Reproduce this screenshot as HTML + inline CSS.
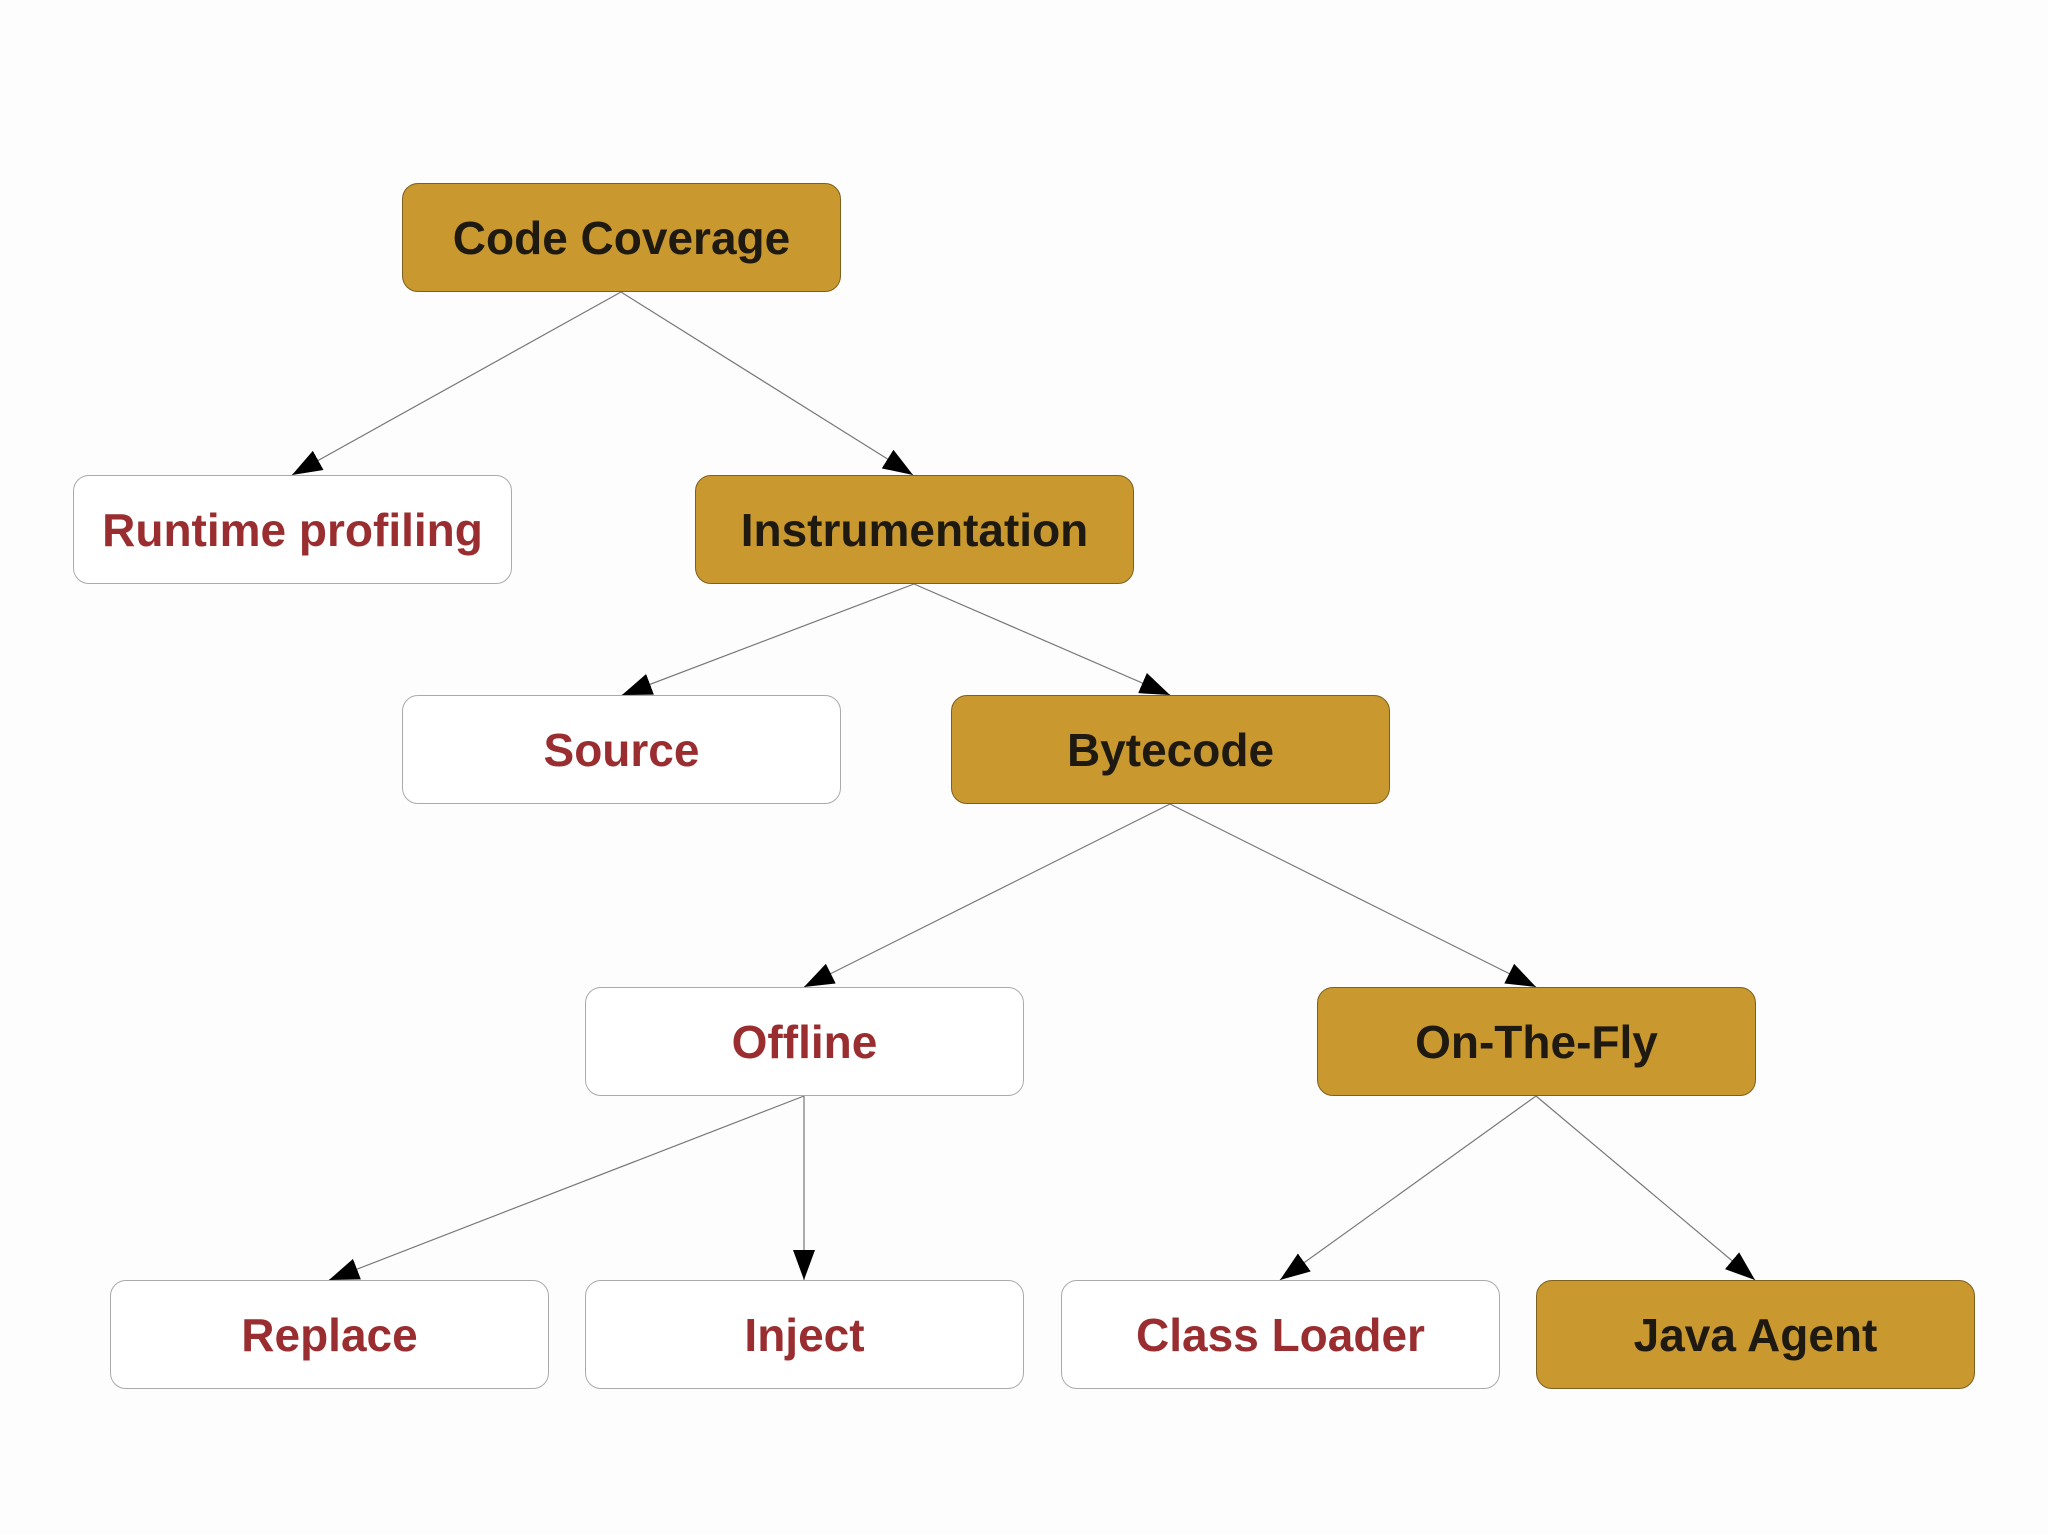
<!DOCTYPE html>
<html><head><meta charset="utf-8"><style>
body{margin:0;width:2048px;height:1535px;background:#fdfdfd;position:relative;overflow:hidden;font-family:"Liberation Sans",sans-serif}
.n{position:absolute;width:439px;height:109px;border-radius:16px;box-sizing:border-box;display:flex;align-items:center;justify-content:center;font-weight:bold;font-size:46px}
.g{background:#c9982e;border:1.5px solid #7d6020;color:#1e1a12}
.w{background:#fff;border:1.5px solid #aaa;color:#9a2d2f}
svg{position:absolute;left:0;top:0}
</style></head><body>
<svg width="2048" height="1535">
<defs><marker id="a" markerWidth="30" markerHeight="22" refX="30" refY="11" orient="auto" markerUnits="userSpaceOnUse"><path d="M0,0 L30,11 L0,22 z" fill="#000"/></marker></defs>
<g stroke="#777" stroke-width="1.2" fill="none" marker-end="url(#a)">
<line x1="621" y1="292" x2="292" y2="475"/>
<line x1="621" y1="292" x2="913" y2="475"/>
<line x1="914" y1="584" x2="622" y2="695"/>
<line x1="914" y1="584" x2="1170" y2="695"/>
<line x1="1170" y1="804" x2="804" y2="987"/>
<line x1="1170" y1="804" x2="1536" y2="987"/>
<line x1="804" y1="1096" x2="329" y2="1280"/>
<line x1="804" y1="1096" x2="804" y2="1280"/>
<line x1="1536" y1="1096" x2="1280" y2="1280"/>
<line x1="1536" y1="1096" x2="1755" y2="1280"/>
</g></svg>
<div class="n g" style="left:402px;top:183px">Code Coverage</div>
<div class="n w" style="left:73px;top:475px">Runtime profiling</div>
<div class="n g" style="left:695px;top:475px">Instrumentation</div>
<div class="n w" style="left:402px;top:695px">Source</div>
<div class="n g" style="left:951px;top:695px">Bytecode</div>
<div class="n w" style="left:585px;top:987px">Offline</div>
<div class="n g" style="left:1317px;top:987px">On-The-Fly</div>
<div class="n w" style="left:110px;top:1280px">Replace</div>
<div class="n w" style="left:585px;top:1280px">Inject</div>
<div class="n w" style="left:1061px;top:1280px">Class Loader</div>
<div class="n g" style="left:1536px;top:1280px">Java Agent</div>
</body></html>
